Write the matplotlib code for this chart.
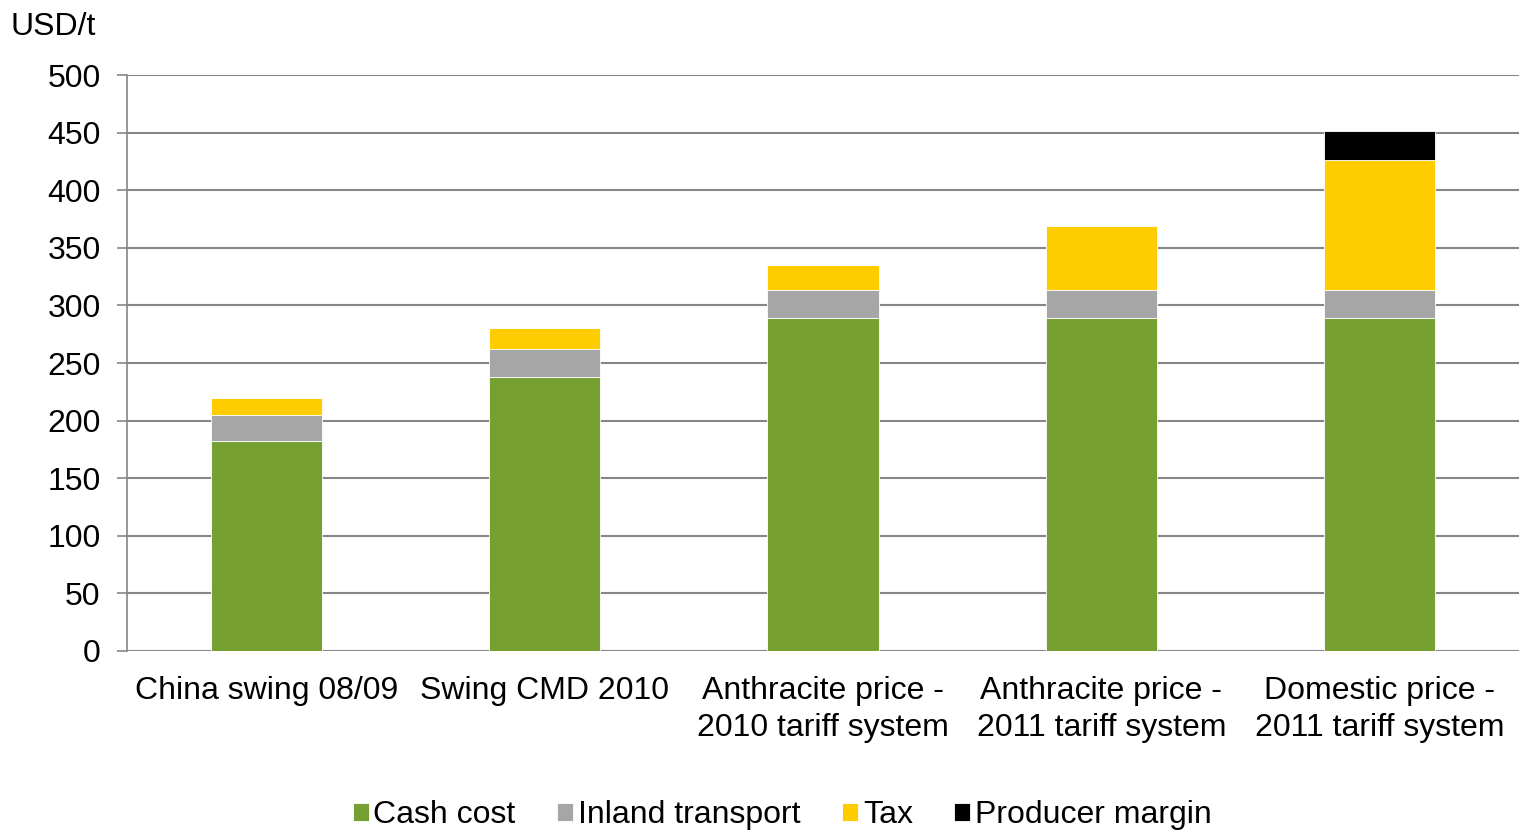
import numpy as np
import matplotlib.pyplot as plt

plt.rcParams['font.family'] = ['Liberation Sans', 'DejaVu Sans']

# data
categories = ['China swing 08/09', 'Swing CMD 2010', 'Anthracite price -\n2010 tariff system',
              'Anthracite price -\n2011 tariff system', 'Domestic price -\n2011 tariff system']
cash_cost = [182, 238, 289, 289, 289]
inland_transport = [23, 24, 24, 24, 24]
tax = [15, 18, 22, 56, 113]
producer_margin = [0, 0, 0, 0, 25]

series = [('Cash cost', cash_cost, '#77A033'),
          ('Inland transport', inland_transport, '#A6A6A6'),
          ('Tax', tax, '#FFCC00'),
          ('Producer margin', producer_margin, '#000000')]

fig = plt.figure(figsize=(15.19, 8.30), dpi=100)
ax = fig.add_axes([0.0836, 0.2157, 0.9164, 0.6939])

x = np.arange(len(categories))
bottom = np.zeros(len(categories))
for name, vals, col in series:
    vals = np.array(vals, dtype=float)
    ax.bar(x, vals, 0.4, bottom=bottom, color=col, label=name, zorder=3,
           edgecolor='white', linewidth=0.6)
    bottom += vals

ax.set_xlim(-0.5, 4.5)
ax.set_ylim(0, 500)
ax.set_yticks(range(0, 501, 50))
ax.yaxis.grid(True, color='#868686', linewidth=1.5, zorder=0)
ax.set_xticks(x)
ax.set_xticklabels(categories, fontsize=23, linespacing=1.32)
ax.tick_params(axis='x', length=0, pad=18)
ax.tick_params(axis='y', labelsize=23, length=7, width=1.2, color='#868686', pad=12)
for s in ['top', 'right', 'bottom']:
    ax.spines[s].set_visible(False)
ax.spines['left'].set_color('#868686')
ax.spines['left'].set_linewidth(1.2)

fig.text(0.007, 0.968, 'USD/t', fontsize=23, va='center', ha='left')

leg = fig.legend(loc='lower center', bbox_to_anchor=(0.515, -0.035), ncol=4, frameon=False,
                 fontsize=23, handlelength=0.5, handleheight=0.5, handletextpad=0.15,
                 columnspacing=1.3)

plt.savefig('out.png', dpi=100)
